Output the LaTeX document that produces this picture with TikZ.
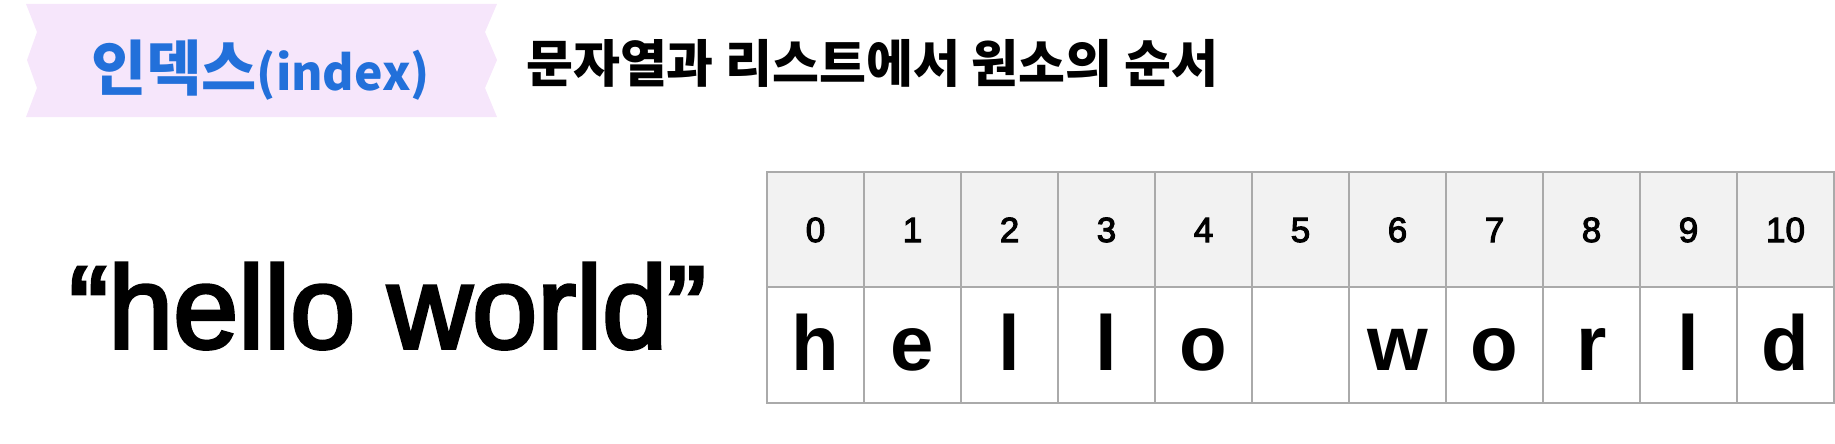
\documentclass[tikz,border=0pt]{standalone}
\usepackage{fontspec}
\setmainfont{Noto Sans CJK KR}
\newfontfamily\latinfont{Liberation Sans}
\newfontfamily\latinmedium[FakeBold=3]{Liberation Sans}

\definecolor{ribbonpink}{HTML}{F6E6FB}
\definecolor{indexblue}{HTML}{2270DA}
\definecolor{gridgray}{HTML}{AAAAAA}
\definecolor{headgray}{HTML}{F2F2F2}

\begin{document}
\begin{tikzpicture}[x=1pt, y=-1pt]
    \tikzset{
        cell/.style={draw=gridgray, line width=2pt, minimum width=97pt, minimum height=115.5pt, inner sep=0pt},
        headcell/.style={cell, fill=headgray, font=\latinmedium\fontsize{35}{38}\selectfont, text height=25pt, text depth=0pt},
        charcell/.style={cell, font=\latinfont\bfseries\fontsize{78}{80}\selectfont, text height=56pt, text depth=6pt}
    } %% cell styles
    \useasboundingbox (0,0) rectangle (1835,444);

    % ribbon behind the title
    \fill[ribbonpink] (26,4) -- (497,4) -- (485,32) -- (497,60) -- (485,88) -- (497,117)
        -- (26,117) -- (37,88) -- (27,60) -- (37,32) -- cycle;
    \node[anchor=base west, inner sep=0pt, text=indexblue, font=\bfseries] (title) at (91,90)
        {\fontsize{60}{64}\selectfont 인덱스\fontsize{48}{52}\selectfont(index)};
    \node[anchor=base west, inner sep=0pt, font=\bfseries\fontsize{51}{54}\selectfont] (subtitle) at (526,82.5)
        {문자열과 리스트에서 원소의 순서};

    \node[anchor=base west, inner sep=0pt, font=\latinmedium\fontsize{117}{120}\selectfont] (word) at (69,348)
        {“hello world”};

    \foreach \i/\ch in {0/h,1/e,2/l,3/l,4/o,5/,6/w,7/o,8/r,9/l,10/d} {
            \node[headcell] (idx\i) at ({815.5+97*\i},229.5) {\i};
            \node[charcell] (chr\i) at ({815.5+97*\i},345) {\ch};
        }
\end{tikzpicture}
\end{document}
